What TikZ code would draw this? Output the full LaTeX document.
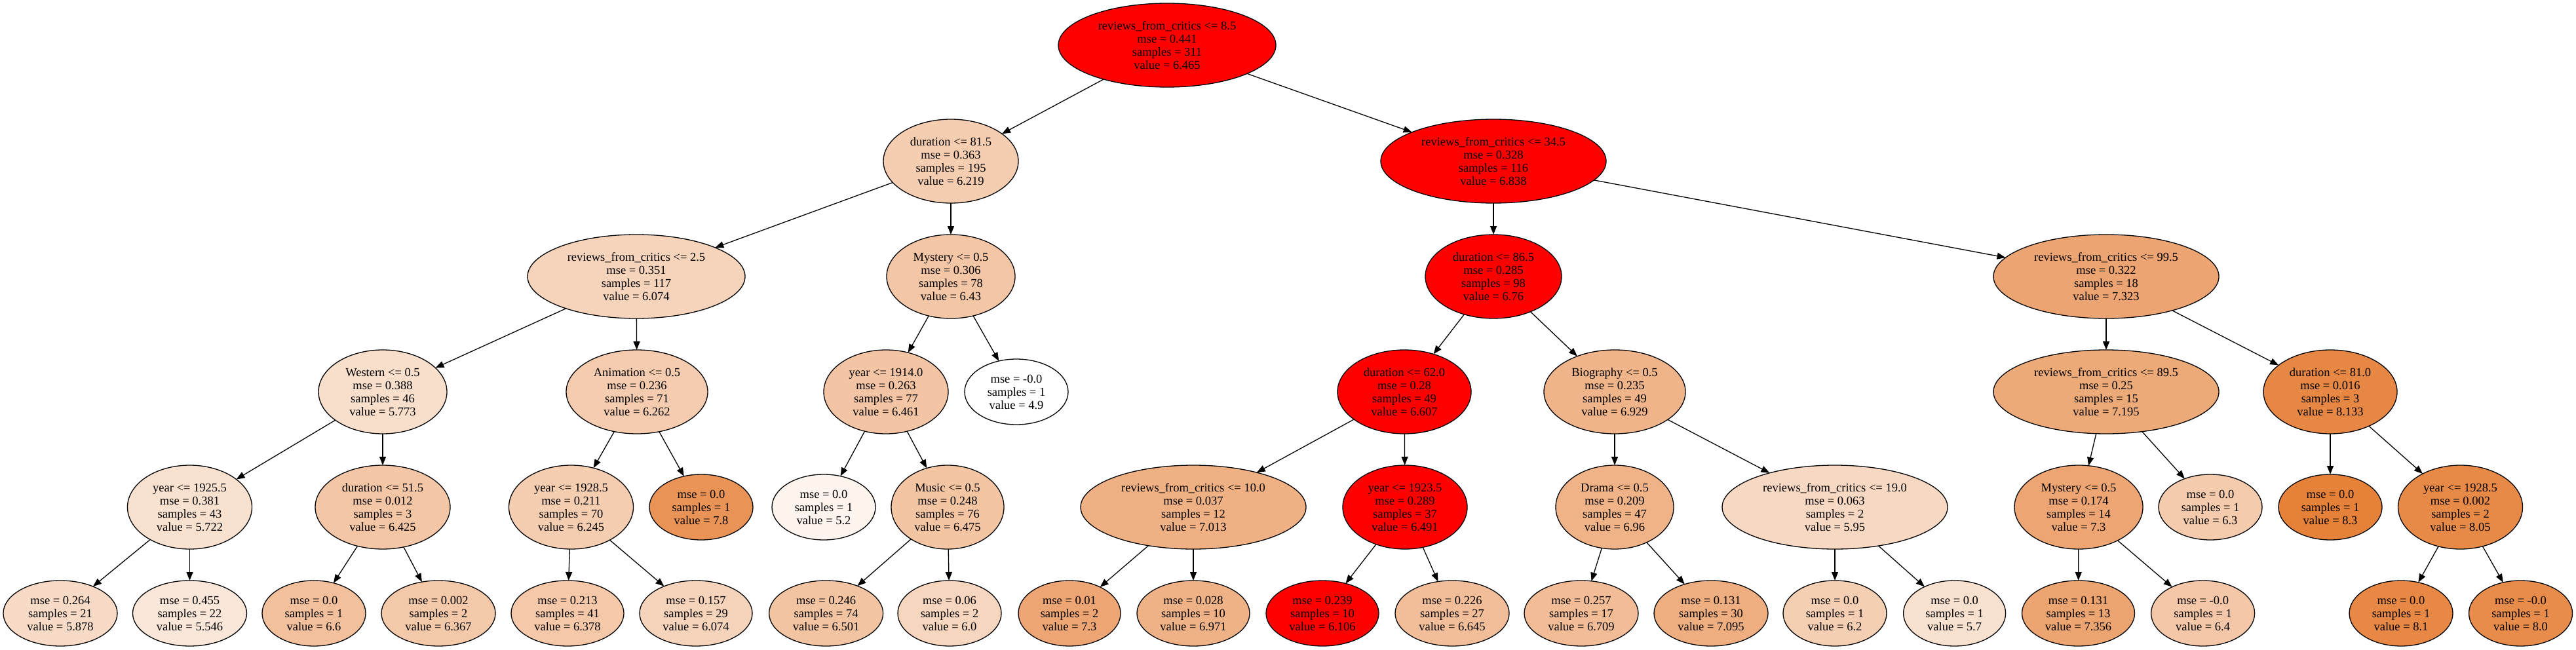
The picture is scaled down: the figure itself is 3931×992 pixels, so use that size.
\documentclass[tikz,border=0pt]{standalone}
\usepackage{fontspec}
\setmainfont{Liberation Serif}
\usetikzlibrary{shapes.geometric,arrows.meta}
\definecolor{base}{RGB}{229,129,57}
\definecolor{hot}{RGB}{255,0,0}
\tikzset{
  tn/.style={ellipse, draw=black, line width=1.3pt, inner sep=0pt, outer sep=0pt,
    align=center, font={\fontsize{18.5}{20}\selectfont}},
  split/.style={tn, minimum height=128pt, minimum width=#1},
  leaf/.style={tn, minimum height=100pt, minimum width=#1},
  fc/.style={fill=base!#1!white},
  hotfill/.style={fill=hot},
  edge/.style={draw=black, line width=1.3pt, -{Triangle[length=13pt,width=10pt]}}
}
\begin{document}
\begin{tikzpicture}[x=1pt,y=-1pt]
\useasboundingbox (0,0) rectangle (3931,992);
% rank 0
\node[split=332pt, hotfill] (n0) at (1781,69) {reviews\_from\_critics <= 8.5\\mse = 0.441\\samples = 311\\value = 6.465};
% rank 1
\node[split=206pt, fc=38.8] (n1) at (1451,246) {duration <= 81.5\\mse = 0.363\\samples = 195\\value = 6.219};
\node[split=344pt, hotfill] (n2) at (2279,246) {reviews\_from\_critics <= 34.5\\mse = 0.328\\samples = 116\\value = 6.838};
% rank 2
\node[split=332pt, fc=34.5] (n3) at (971,422) {reviews\_from\_critics <= 2.5\\mse = 0.351\\samples = 117\\value = 6.074};
\node[split=196pt, fc=45] (n4) at (1451,422) {Mystery <= 0.5\\mse = 0.306\\samples = 78\\value = 6.43};
\node[split=208pt, hotfill] (n5) at (2279,422) {duration <= 86.5\\mse = 0.285\\samples = 98\\value = 6.76};
\node[split=344pt, fc=71.3] (n6) at (3214,422) {reviews\_from\_critics <= 99.5\\mse = 0.322\\samples = 18\\value = 7.323};
% rank 3
\node[split=196pt, fc=25.7] (n7) at (584,598) {Western <= 0.5\\mse = 0.388\\samples = 46\\value = 5.773};
\node[split=216pt, fc=40.1] (n8) at (972,598) {Animation <= 0.5\\mse = 0.236\\samples = 71\\value = 6.262};
\node[split=190pt, fc=45.9] (n9) at (1352,598) {year <= 1914.0\\mse = 0.263\\samples = 77\\value = 6.461};
\node[leaf=158pt, fc=0] (n10) at (1551,598) {mse = -0.0\\samples = 1\\value = 4.9};
\node[split=204pt, hotfill] (n11) at (2143,598) {duration <= 62.0\\mse = 0.28\\samples = 49\\value = 6.607};
\node[split=216pt, fc=59.7] (n12) at (2464,598) {Biography <= 0.5\\mse = 0.235\\samples = 49\\value = 6.929};
\node[split=344pt, fc=67.5] (n13) at (3214,598) {reviews\_from\_critics <= 89.5\\mse = 0.25\\samples = 15\\value = 7.195};
\node[split=204pt, fc=95.1] (n14) at (3556,598) {duration <= 81.0\\mse = 0.016\\samples = 3\\value = 8.133};
% rank 4
\node[split=190pt, fc=24.2] (n15) at (289.5,774) {year <= 1925.5\\mse = 0.381\\samples = 43\\value = 5.722};
\node[split=206pt, fc=44.9] (n16) at (584,774) {duration <= 51.5\\mse = 0.012\\samples = 3\\value = 6.425};
\node[split=190pt, fc=39.6] (n17) at (871.5,774) {year <= 1928.5\\mse = 0.211\\samples = 70\\value = 6.245};
\node[leaf=158pt, fc=85.3] (n18) at (1070,774) {mse = 0.0\\samples = 1\\value = 7.8};
\node[leaf=158pt, fc=8.8] (n19) at (1257,774) {mse = 0.0\\samples = 1\\value = 5.2};
\node[split=172pt, fc=46.3] (n20) at (1446,774) {Music <= 0.5\\mse = 0.248\\samples = 76\\value = 6.475};
\node[split=344pt, fc=62.1] (n21) at (1821,774) {reviews\_from\_critics <= 10.0\\mse = 0.037\\samples = 12\\value = 7.013};
\node[split=190pt, hotfill] (n22) at (2144,774) {year <= 1923.5\\mse = 0.289\\samples = 37\\value = 6.491};
\node[split=180pt, fc=60.6] (n23) at (2464,774) {Drama <= 0.5\\mse = 0.209\\samples = 47\\value = 6.96};
\node[split=344pt, fc=30.9] (n24) at (2800,774) {reviews\_from\_critics <= 19.0\\mse = 0.063\\samples = 2\\value = 5.95};
\node[split=196pt, fc=70.6] (n25) at (3172,774) {Mystery <= 0.5\\mse = 0.174\\samples = 14\\value = 7.3};
\node[leaf=158pt, fc=41.2] (n26) at (3373,774) {mse = 0.0\\samples = 1\\value = 6.3};
\node[leaf=158pt, fc=100] (n27) at (3556,774) {mse = 0.0\\samples = 1\\value = 8.3};
\node[split=190pt, fc=92.6] (n28) at (3754.5,774) {year <= 1928.5\\mse = 0.002\\samples = 2\\value = 8.05};
% rank 5
\node[leaf=174pt, fc=28.8] (n29) at (92,936) {mse = 0.264\\samples = 21\\value = 5.878};
\node[leaf=174pt, fc=19] (n30) at (289.5,936) {mse = 0.455\\samples = 22\\value = 5.546};
\node[leaf=158pt, fc=50] (n31) at (479,936) {mse = 0.0\\samples = 1\\value = 6.6};
\node[leaf=174pt, fc=43.1] (n32) at (669,936) {mse = 0.002\\samples = 2\\value = 6.367};
\node[leaf=172pt, fc=43.5] (n33) at (866,936) {mse = 0.213\\samples = 41\\value = 6.378};
\node[leaf=172pt, fc=34.5] (n34) at (1062,936) {mse = 0.157\\samples = 29\\value = 6.074};
\node[leaf=174pt, fc=47.1] (n35) at (1260.6,936) {mse = 0.246\\samples = 74\\value = 6.501};
\node[leaf=158pt, fc=32.4] (n36) at (1449,936) {mse = 0.06\\samples = 2\\value = 6.0};
\node[leaf=156pt, fc=70.6] (n37) at (1632,936) {mse = 0.01\\samples = 2\\value = 7.3};
\node[leaf=172pt, fc=60.9] (n38) at (1821,936) {mse = 0.028\\samples = 10\\value = 6.971};
\node[leaf=172pt, hotfill] (n39) at (2018,936) {mse = 0.239\\samples = 10\\value = 6.106};
\node[leaf=174pt, fc=51.3] (n40) at (2216,936) {mse = 0.226\\samples = 27\\value = 6.645};
\node[leaf=174pt, fc=53.2] (n41) at (2413,936) {mse = 0.257\\samples = 17\\value = 6.709};
\node[leaf=174pt, fc=64.6] (n42) at (2611,936) {mse = 0.131\\samples = 30\\value = 7.095};
\node[leaf=158pt, fc=38.2] (n43) at (2800,936) {mse = 0.0\\samples = 1\\value = 6.2};
\node[leaf=156pt, fc=23.5] (n44) at (2982.6,936) {mse = 0.0\\samples = 1\\value = 5.7};
\node[leaf=172pt, fc=72.2] (n45) at (3171.5,936) {mse = 0.131\\samples = 13\\value = 7.356};
\node[leaf=158pt, fc=44.1] (n46) at (3361.6,936) {mse = -0.0\\samples = 1\\value = 6.4};
\node[leaf=158pt, fc=94.1] (n47) at (3664,936) {mse = 0.0\\samples = 1\\value = 8.1};
\node[leaf=158pt, fc=91.2] (n48) at (3846.5,936) {mse = -0.0\\samples = 1\\value = 8.0};
% edges
\foreach \a/\b in {n0/n1,n0/n2,n1/n3,n1/n4,n2/n5,n2/n6,n3/n7,n3/n8,n4/n9,n4/n10,
  n5/n11,n5/n12,n6/n13,n6/n14,n7/n15,n7/n16,n8/n17,n8/n18,n9/n19,n9/n20,
  n11/n21,n11/n22,n12/n23,n12/n24,n13/n25,n13/n26,n14/n27,n14/n28,
  n15/n29,n15/n30,n16/n31,n16/n32,n17/n33,n17/n34,n20/n35,n20/n36,
  n21/n37,n21/n38,n22/n39,n22/n40,n23/n41,n23/n42,n24/n43,n24/n44,
  n25/n45,n25/n46,n28/n47,n28/n48}
  \draw[edge] (\a) -- (\b);
\end{tikzpicture}
\end{document}
